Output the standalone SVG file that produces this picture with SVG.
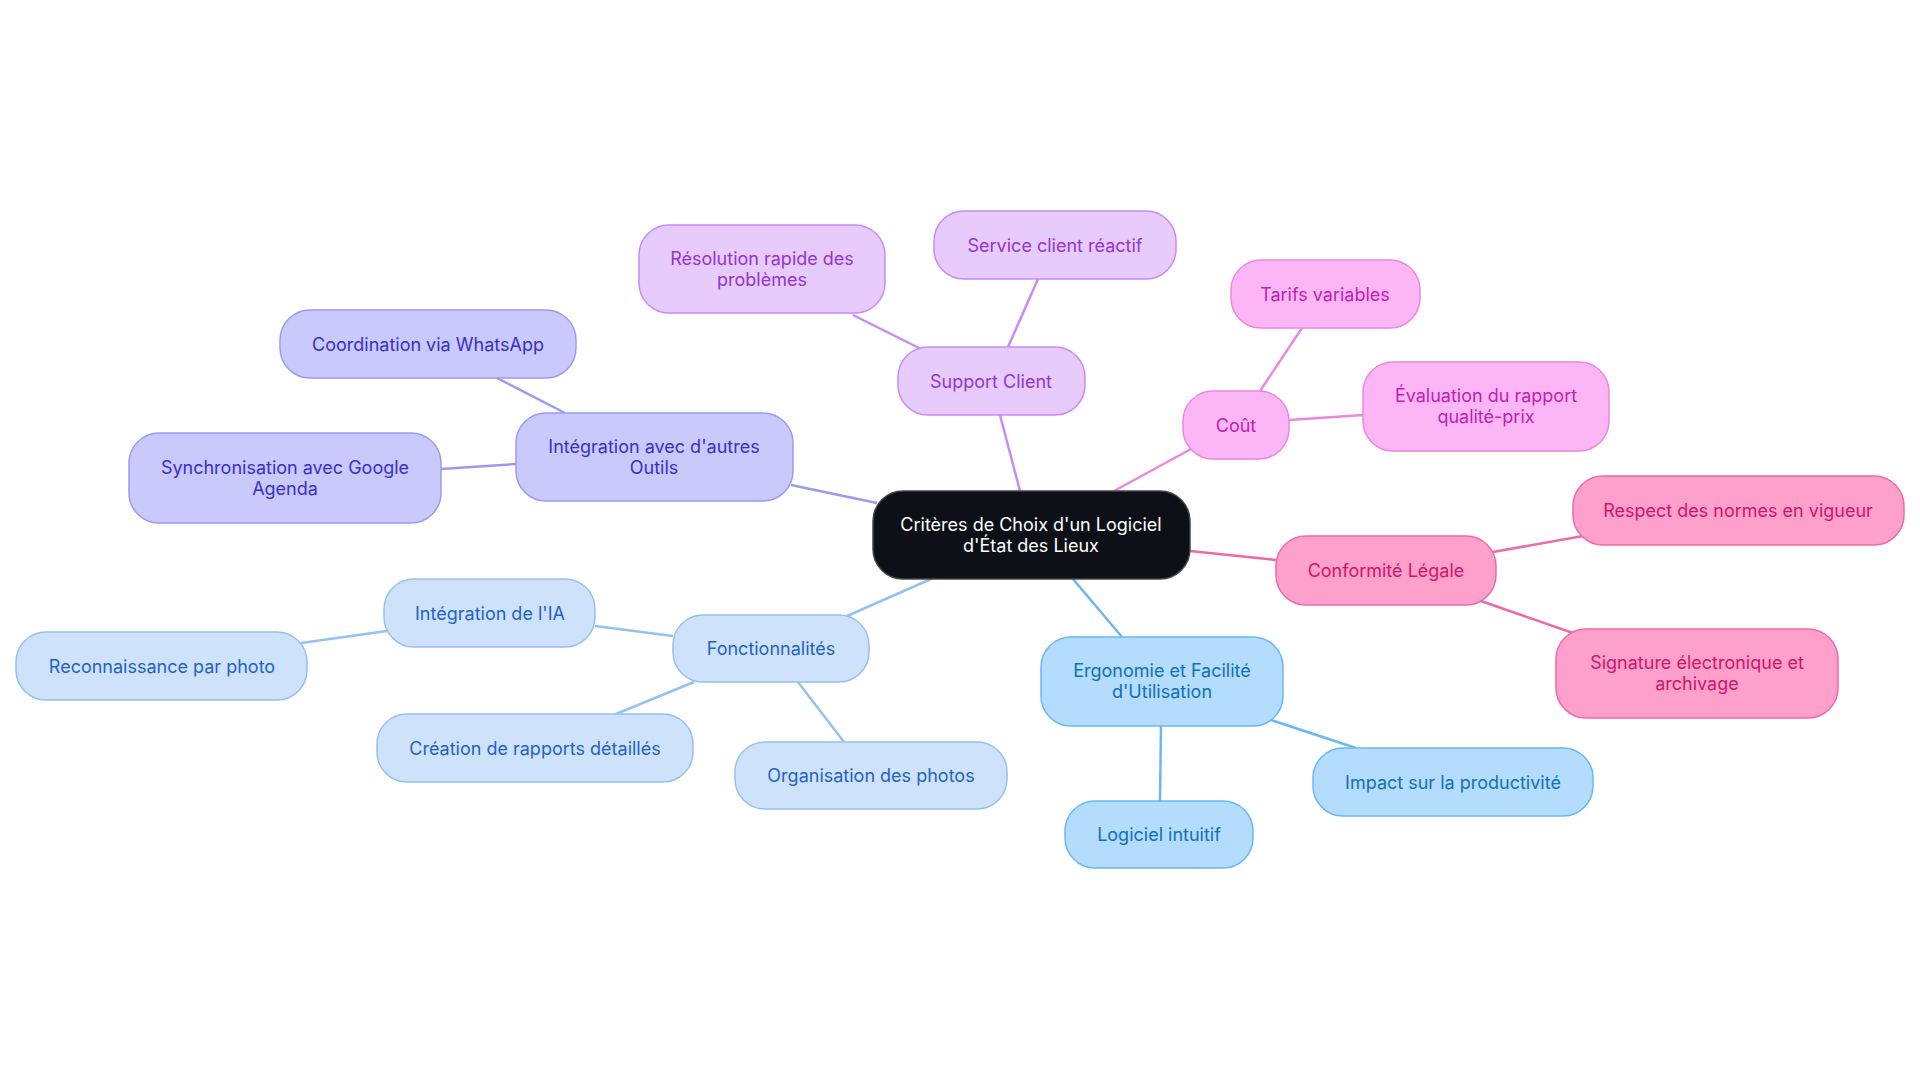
<svg xmlns="http://www.w3.org/2000/svg" width="1920" height="1083" viewBox="0 0 1920 1083">
<style>
text{font-family:Inter,"Noto Sans",sans-serif;font-size:18px;text-anchor:middle;dominant-baseline:central}
rect{stroke-width:1.5}
.c line{stroke-width:2.5;fill:none}
.p rect{fill:#e6cbfc;stroke:#c98af5}.p text{fill:#9434d0}
.v rect{fill:#c9c9fc;stroke:#9a9af0}.v text{fill:#3a2fc8}
.b rect{fill:#cfe2fb;stroke:#96c0f2}.b text{fill:#1f62c4}
.s rect{fill:#b3dcfd;stroke:#6ab7f3}.s text{fill:#1070b8}
.k rect{fill:#fdb6f5;stroke:#ec87e0}.k text{fill:#c01eb0}
.h rect{fill:#fda0cc;stroke:#ec6aa8}.h text{fill:#d0146b}
</style>
<rect width="1920" height="1083" fill="#fff"/>
<g id="connectors" class="c">
<line x1="1020" y1="491" x2="1000" y2="415" stroke="#c98af5"/>
<line x1="1008" y1="347" x2="1038" y2="279" stroke="#c98af5"/>
<line x1="921" y1="349" x2="853" y2="315" stroke="#c98af5"/>
<line x1="877" y1="503" x2="791" y2="485" stroke="#9a9af0"/>
<line x1="565" y1="413" x2="497" y2="378" stroke="#9a9af0"/>
<line x1="516" y1="464" x2="441" y2="469" stroke="#9a9af0"/>
<line x1="931" y1="579" x2="847" y2="616" stroke="#96c0f2"/>
<line x1="673" y1="636" x2="595" y2="626" stroke="#96c0f2"/>
<line x1="387" y1="631" x2="301" y2="643" stroke="#96c0f2"/>
<line x1="694" y1="682" x2="616" y2="714" stroke="#96c0f2"/>
<line x1="798" y1="682" x2="844" y2="742" stroke="#96c0f2"/>
<line x1="1073" y1="579" x2="1122" y2="637" stroke="#6ab7f3"/>
<line x1="1161" y1="726" x2="1160" y2="801" stroke="#6ab7f3"/>
<line x1="1271" y1="720" x2="1356" y2="748" stroke="#6ab7f3"/>
<line x1="1190" y1="551" x2="1276" y2="560" stroke="#ec6aa8"/>
<line x1="1493" y1="552" x2="1583" y2="536" stroke="#ec6aa8"/>
<line x1="1478" y1="600" x2="1573" y2="633" stroke="#ec6aa8"/>
<line x1="1114" y1="491" x2="1191" y2="449" stroke="#ec87e0"/>
<line x1="1260" y1="391" x2="1302" y2="328" stroke="#ec87e0"/>
<line x1="1289" y1="420" x2="1363" y2="415" stroke="#ec87e0"/>
</g>
<g id="root"><rect x="873" y="491" width="317" height="88" rx="30" fill="#0d1117" stroke="#444"/><text x="1031" y="524" fill="#fff">Critères de Choix d'un Logiciel</text><text x="1031" y="545" fill="#fff">d'État des Lieux</text></g>
<g id="support" class="p"><rect x="898" y="347" width="187" height="68" rx="30"/><text x="991" y="381">Support Client</text></g>
<g id="service" class="p"><rect x="934" y="211" width="242" height="68" rx="30"/><text x="1055" y="245">Service client réactif</text></g>
<g id="resolution" class="p"><rect x="639" y="225" width="246" height="88" rx="30"/><text x="762" y="258">Résolution rapide des</text><text x="762" y="279">problèmes</text></g>
<g id="integration" class="v"><rect x="516" y="413" width="277" height="88" rx="30"/><text x="654" y="446">Intégration avec d'autres</text><text x="654" y="467">Outils</text></g>
<g id="whatsapp" class="v"><rect x="280" y="310" width="296" height="68" rx="30"/><text x="428" y="344">Coordination via WhatsApp</text></g>
<g id="sync" class="v"><rect x="129" y="433" width="312" height="90" rx="30"/><text x="285" y="467">Synchronisation avec Google</text><text x="285" y="488">Agenda</text></g>
<g id="fonct" class="b"><rect x="673" y="615" width="196" height="67" rx="30"/><text x="771" y="648">Fonctionnalités</text></g>
<g id="ia" class="b"><rect x="384" y="579" width="211" height="68" rx="30"/><text x="490" y="613">Intégration de l'IA</text></g>
<g id="reco" class="b"><rect x="16" y="632" width="291" height="68" rx="30"/><text x="162" y="666">Reconnaissance par photo</text></g>
<g id="creation" class="b"><rect x="377" y="714" width="316" height="68" rx="30"/><text x="535" y="748">Création de rapports détaillés</text></g>
<g id="organisation" class="b"><rect x="735" y="742" width="272" height="67" rx="30"/><text x="871" y="775">Organisation des photos</text></g>
<g id="ergo" class="s"><rect x="1041" y="637" width="242" height="89" rx="30"/><text x="1162" y="670">Ergonomie et Facilité</text><text x="1162" y="691">d'Utilisation</text></g>
<g id="intuitif" class="s"><rect x="1065" y="801" width="188" height="67" rx="30"/><text x="1159" y="834">Logiciel intuitif</text></g>
<g id="impact" class="s"><rect x="1313" y="748" width="280" height="68" rx="30"/><text x="1453" y="782">Impact sur la productivité</text></g>
<g id="conformite" class="h"><rect x="1276" y="536" width="220" height="69" rx="30"/><text x="1386" y="570">Conformité Légale</text></g>
<g id="respect" class="h"><rect x="1573" y="476" width="331" height="69" rx="30"/><text x="1738" y="510">Respect des normes en vigueur</text></g>
<g id="signature" class="h"><rect x="1556" y="629" width="282" height="89" rx="30"/><text x="1697" y="662">Signature électronique et</text><text x="1697" y="683">archivage</text></g>
<g id="cout" class="k"><rect x="1183" y="391" width="106" height="68" rx="30"/><text x="1236" y="425">Coût</text></g>
<g id="tarifs" class="k"><rect x="1231" y="260" width="189" height="68" rx="30"/><text x="1325" y="294">Tarifs variables</text></g>
<g id="evaluation" class="k"><rect x="1363" y="362" width="246" height="89" rx="30"/><text x="1486" y="395">Évaluation du rapport</text><text x="1486" y="416">qualité-prix</text></g>
</svg>
